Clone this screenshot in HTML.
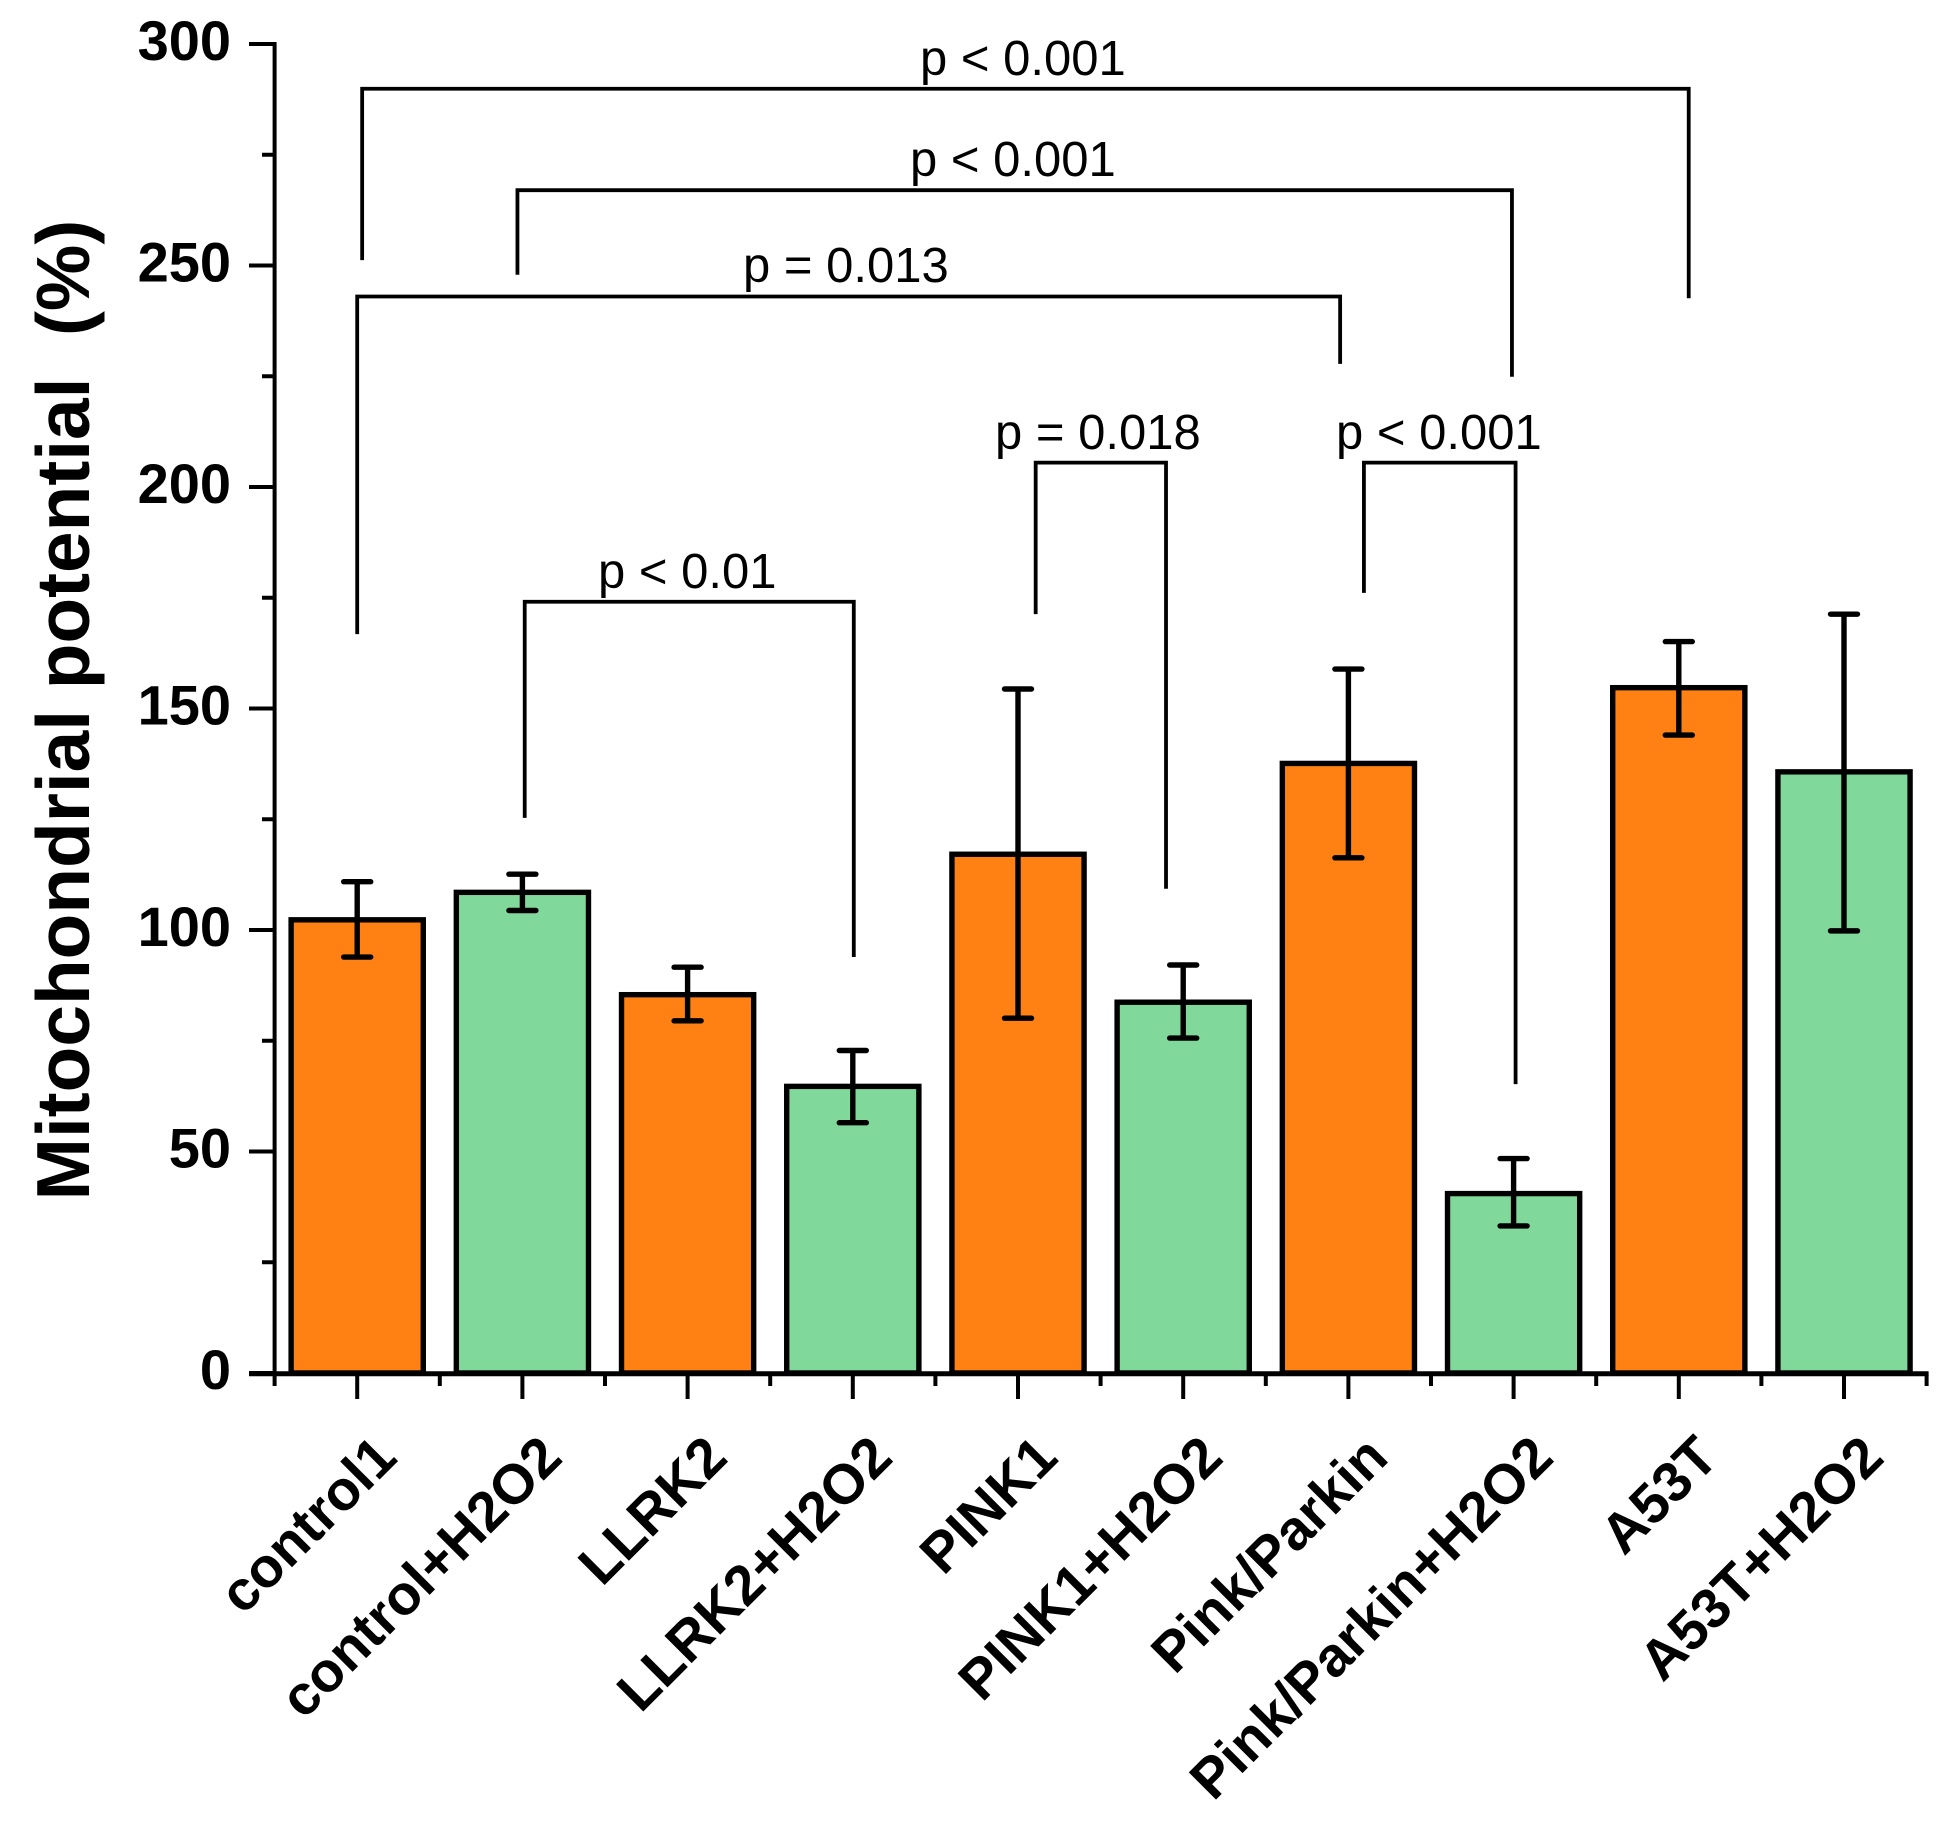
<!DOCTYPE html>
<html>
<head>
<meta charset="utf-8">
<title>Mitochondrial potential</title>
<style>
html,body{margin:0;padding:0;background:#fff;}
svg{display:block;}
text{font-family:"Liberation Sans",Arial,sans-serif;fill:#000;}
</style>
</head>
<body>
<svg id="chart" width="1949" height="1825" viewBox="0 0 1949 1825" xmlns="http://www.w3.org/2000/svg">
<text transform="translate(89,710) rotate(-90)" text-anchor="middle" font-size="74.8" font-weight="700" xml:space="preserve" style="white-space:pre">Mitochondrial potential  (%)</text>
</svg>
<script>
const categories = ['control1','control+H2O2','LLRK2','LLRK2+H2O2','PINK1','PINK1+H2O2','Pink/Parkin','Pink/Parkin+H2O2','A53T','A53T+H2O2'];
const means = [102.3,108.5,85.4,64.7,117.1,83.7,137.6,40.5,154.7,135.7];
const errorUpper = [110.9,112.6,91.6,72.8,154.4,92.1,158.9,48.4,165.1,171.3];
const errorLower = [93.9,104.4,79.5,56.5,80.1,75.6,116.3,33.2,144,99.8];
const majorTicks = [0,50,100,150,200,250,300];
const minorTicks = [25,75,125,175,225,275];
const bracketLabels = ['p < 0.001','p < 0.001','p = 0.013','p < 0.01','p = 0.018','p < 0.001'];
const bracketStart = [0.03,0.97,0.0,1.014,4.107,6.094];
const bracketEnd = [8.06,6.99,5.95,3.006,4.896,7.012];
const bracketTop = [289.9,267,243,174.1,205.5,205.5];
const bracketStartFoot = [251.2,247.9,166.8,125.3,171.3,176.1];
const bracketEndFoot = [242.6,224.9,227.8,93.9,109.3,65.2];

const ORANGE = '#FF8013';
const GREEN = '#80D99B';
const NS = 'http://www.w3.org/2000/svg';
const svg = document.getElementById('chart');

function xScale(i){ return 357.2 + 165.2 * i; }
function yScale(v){ return 1373 - 4.43 * v; }

function line(parent, x1, y1, x2, y2, w){
  const el = document.createElementNS(NS, 'line');
  el.setAttribute('x1', x1);
  el.setAttribute('y1', y1);
  el.setAttribute('x2', x2);
  el.setAttribute('y2', y2);
  el.setAttribute('stroke', '#000');
  el.setAttribute('stroke-width', w);
  parent.appendChild(el);
  return el;
}
function group(parent){
  const g = document.createElementNS(NS, 'g');
  parent.appendChild(g);
  return g;
}

/* bars */
const barWidth = xScale(0.8) - xScale(0);
categories.forEach(function(c, i){
  const r = document.createElementNS(NS, 'rect');
  
  
  r.setAttribute('x', xScale(i) - barWidth / 2);
  r.setAttribute('y', yScale(means[i]));
  r.setAttribute('width', barWidth);
  r.setAttribute('height', yScale(0) - yScale(means[i]));
  r.setAttribute('fill', i % 2 === 0 ? ORANGE : GREEN);
  r.setAttribute('stroke', '#000');
  r.setAttribute('stroke-width', 5.4);
  svg.appendChild(r);
});

/* error bars */
categories.forEach(function(c, i){
  const g = group(svg);
  
  
  const cx = xScale(i);
  line(g, cx, yScale(errorUpper[i]), cx, yScale(errorLower[i]), 5.4);
  const top = line(g, cx - 13.5, yScale(errorUpper[i]), cx + 13.5, yScale(errorUpper[i]), 5.4);
  top.setAttribute('stroke-linecap', 'round');
  const bottom = line(g, cx - 13.5, yScale(errorLower[i]), cx + 13.5, yScale(errorLower[i]), 5.4);
  bottom.setAttribute('stroke-linecap', 'round');
});

/* y axis */
const yAxis = group(svg);


const axisLeft = xScale(-0.5);
const axisRight = xScale(9.5);
line(yAxis, axisLeft, yScale(300) - 2, axisLeft, yScale(0) + 2, 4);
majorTicks.forEach(function(v){
  line(yAxis, 249, yScale(v), axisLeft, yScale(v), 4);
  const t = document.createElementNS(NS, 'text');
  
  
  t.setAttribute('x', 231);
  t.setAttribute('y', yScale(v) + 16);
  t.setAttribute('text-anchor', 'end');
  t.setAttribute('font-size', 56);
  t.setAttribute('font-weight', 700);
  t.textContent = String(v);
  yAxis.appendChild(t);
});
minorTicks.forEach(function(v){
  line(yAxis, 262, yScale(v), axisLeft, yScale(v), 4);
});

/* x axis */
const xAxis = group(svg);


line(xAxis, 249, yScale(0) + 0.8, axisRight + 2, yScale(0) + 0.8, 5);
categories.forEach(function(c, i){
  line(xAxis, xScale(i), yScale(0) + 1, xScale(i), 1399, 4);
  const t = document.createElementNS(NS, 'text');
  
  
  t.setAttribute('transform', 'translate(' + (xScale(i) + 42) + ',1460) rotate(-45)');
  t.setAttribute('text-anchor', 'end');
  t.setAttribute('font-size', 56);
  t.setAttribute('font-weight', 700);
  t.textContent = c;
  xAxis.appendChild(t);
});
for (let k = 0; k <= categories.length; k++) {
  line(xAxis, xScale(k - 0.5), yScale(0) + 1, xScale(k - 0.5), 1386, 4);
}

/* significance brackets */
const labelX = [920, 910, 743, 598, 995, 1336];
const labelY = [75, 176, 282, 588, 449, 449];
bracketLabels.forEach(function(lab, i){
  const g = group(svg);
  
  
  const p = document.createElementNS(NS, 'polyline');
  p.setAttribute('points',
    xScale(bracketStart[i]) + ',' + yScale(bracketStartFoot[i]) + ' ' +
    xScale(bracketStart[i]) + ',' + yScale(bracketTop[i]) + ' ' +
    xScale(bracketEnd[i]) + ',' + yScale(bracketTop[i]) + ' ' +
    xScale(bracketEnd[i]) + ',' + yScale(bracketEndFoot[i]));
  p.setAttribute('fill', 'none');
  p.setAttribute('stroke', '#000');
  p.setAttribute('stroke-width', 3.8);
  g.appendChild(p);
  const t = document.createElementNS(NS, 'text');
  
  
  t.setAttribute('x', labelX[i]);
  t.setAttribute('y', labelY[i]);
  t.setAttribute('font-size', 49);
  t.textContent = lab;
  g.appendChild(t);
});
</script>
</body>
</html>
